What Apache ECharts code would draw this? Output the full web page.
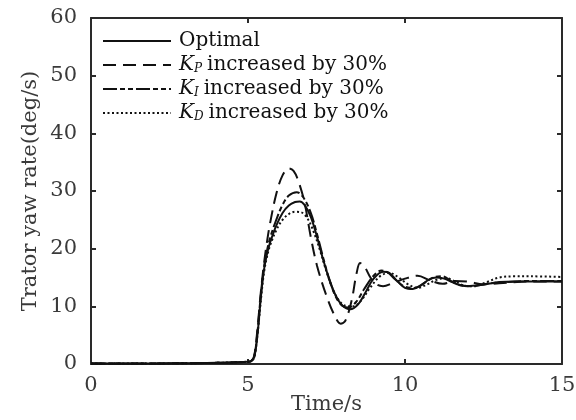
<!DOCTYPE html>
<html>
<head>
<meta charset="utf-8">
<script src="https://cdn.jsdelivr.net/npm/echarts@6/dist/echarts.min.js"></script>
<style>html,body{margin:0;padding:0;background:#fff}#c{width:576px;height:420px}</style>
</head>
<body>
<div id="c"></div>
<script>
var seriesNames = ['Optimal', 'KP increased by 30%', 'KI increased by 30%', 'KD increased by 30%'];
var xTicks = [0, 5, 10, 15];
var yTicks = [0, 10, 20, 30, 40, 50, 60];

var tOpt = [0,2,4,4.6,5.0,5.1,5.2,5.3,5.4,5.5,5.6,5.7,5.9,6.1,6.3,6.5,6.65,6.8,7.0,7.2,7.4,7.6,7.8,8.0,8.25,8.5,8.75,9.0,9.3,9.5,9.75,10.0,10.25,10.5,10.75,11.0,11.25,11.5,11.75,12.0,12.5,13.0,13.5,14,15];
var yOpt = [0.1,0.1,0.2,0.3,0.4,0.5,1.2,5,11,16,19,21,24,26.2,27.5,28.1,28.2,27.6,25.5,22,18,14.5,11.8,10.2,9.5,10.3,12.5,14.8,16,15.8,14.4,13.2,13,13.6,14.6,15,14.8,14.2,13.7,13.5,13.8,14.2,14.3,14.3,14.3];

var tKP = [0,2,4,4.6,5.0,5.1,5.2,5.3,5.4,5.5,5.6,5.7,5.9,6.1,6.3,6.45,6.6,6.8,7.0,7.2,7.5,7.75,7.95,8.1,8.3,8.45,8.57,8.7,8.9,9.1,9.3,9.6,10.0,10.4,10.8,11.2,11.6,12.0,12.5,13,14,15];
var yKP = [0.1,0.1,0.2,0.3,0.4,0.5,1.5,6,12,17,21,24.3,29.5,32.7,33.9,33.5,31.8,28,22,17,11.8,8.5,7,7.5,11,15.5,17.5,17,15,13.8,13.5,14,14.8,15.3,14.5,13.9,14.4,14.3,13.8,14,14.3,14.3];

var tKI = [0,2,4,4.6,5.0,5.1,5.2,5.3,5.4,5.5,5.6,5.7,5.9,6.1,6.3,6.55,6.75,7.0,7.2,7.4,7.6,7.8,8.0,8.2,8.45,8.7,9.0,9.25,9.45,9.7,10.0,10.3,10.6,10.9,11.2,11.5,11.8,12.1,12.6,13.2,14,15];
var yKI = [0.1,0.1,0.2,0.3,0.4,0.5,1.3,5.5,11.5,16.5,19.5,21.8,25,27.6,29.2,29.8,29,26.2,22.5,18.3,14.5,11.6,10.1,9.8,10.8,13,15.3,16.2,15.9,14.6,13.4,13.2,14,15,15.2,14.3,13.6,13.5,13.9,14.2,14.4,14.4];

var tKD = [0,2,4,4.6,5.0,5.1,5.2,5.3,5.4,5.5,5.6,5.7,5.9,6.1,6.3,6.5,6.7,6.9,7.1,7.3,7.5,7.7,7.9,8.1,8.35,8.6,8.9,9.2,9.5,9.8,10.1,10.4,10.7,11.0,11.3,11.6,11.9,12.2,12.6,13.0,13.5,14,15];
var yKD = [0.1,0.1,0.2,0.3,0.4,0.5,1.2,5,10.5,15.5,18.5,20.5,23.2,25,26,26.4,26.3,25.2,22.8,19.6,16,13,11,10.1,10,11,13.3,15.2,15.8,15,13.8,13.2,13.8,14.6,14.9,14.3,13.6,13.5,14.2,15,15.2,15.2,15.1];

function pairs(t, y) { return t.map(function (v, i) { return [v, y[i]]; }); }

var FONT = 'DejaVu Serif';
var TXT = '#3a3a3a';
var AX = '#2a2a2a';

var chart = echarts.init(document.getElementById('c'), null, {renderer: 'canvas'});

function mkSeries(name, data, type) {
  return {
    name: name, type: 'line', data: data, smooth: 0.35, symbol: 'none',
    lineStyle: {color: '#111', width: 2, type: type},
    itemStyle: {color: '#111'}, z: 3, animation: false
  };
}

var legendFmt = {
  'Optimal': 'Optimal',
  'KP increased by 30%': '{k|K}{s|P}increased by 30%',
  'KI increased by 30%': '{k|K}{s|I}increased by 30%',
  'KD increased by 30%': '{k|K}{s|D}increased by 30%'
};

chart.setOption({
  animation: false,
  grid: {left: 91, right: 14, top: 18, bottom: 56, outerBoundsMode: 'none', containLabel: false},
  legend: {
    orient: 'vertical', left: 97, top: 26, itemWidth: 68, itemHeight: 12, itemGap: 4,
    itemStyle: {opacity: 0},
    data: seriesNames,
    formatter: function (n) { return legendFmt[n]; },
    textStyle: {
      fontFamily: FONT, fontSize: 20, color: '#111', padding: [0, 0, 0, 3],
      rich: {
        k: {fontFamily: FONT, fontSize: 20, fontStyle: 'italic', color: '#111'},
        s: {fontFamily: FONT, fontSize: 12, fontStyle: 'italic', color: '#111', verticalAlign: 'bottom', padding: [6, 5, 0, 0]}
      }
    }
  },
  xAxis: [{
    type: 'value', min: 0, max: 15, interval: 5, position: 'bottom',
    name: 'Time/s', nameLocation: 'middle', nameGap: 30, nameMoveOverlap: false,
    nameTextStyle: {fontFamily: FONT, fontSize: 21, color: TXT},
    axisLine: {show: true, onZero: false, lineStyle: {color: AX, width: 2}},
    axisTick: {show: true, inside: true, length: 5, lineStyle: {color: AX, width: 2}},
    axisLabel: {fontFamily: FONT, fontSize: 21, color: TXT, margin: 11,
      formatter: function (v) { return xTicks.indexOf(v) >= 0 ? String(v) : ''; }},
    splitLine: {show: false}
  }, {
    type: 'value', min: 0, max: 15, interval: 5, position: 'top',
    axisLine: {show: true, onZero: false, lineStyle: {color: AX, width: 2}},
    axisTick: {show: true, inside: true, length: 5, lineStyle: {color: AX, width: 2}},
    axisLabel: {show: false}, splitLine: {show: false}
  }],
  yAxis: [{
    type: 'value', min: 0, max: 60, interval: 10, position: 'left',
    name: 'Trator yaw rate(deg/s)', nameLocation: 'middle', nameGap: 50, nameMoveOverlap: false,
    nameTextStyle: {fontFamily: FONT, fontSize: 21, color: TXT},
    axisLine: {show: true, onZero: false, lineStyle: {color: AX, width: 2}},
    axisTick: {show: true, inside: true, length: 5, lineStyle: {color: AX, width: 2}},
    axisLabel: {fontFamily: FONT, fontSize: 21, color: TXT, margin: 14,
      formatter: function (v) { return yTicks.indexOf(v) >= 0 ? String(v) : ''; }},
    splitLine: {show: false}
  }, {
    type: 'value', min: 0, max: 60, interval: 10, position: 'right',
    axisLine: {show: true, onZero: false, lineStyle: {color: AX, width: 2}},
    axisTick: {show: true, inside: true, length: 5, lineStyle: {color: AX, width: 2}},
    axisLabel: {show: false}, splitLine: {show: false}
  }],
  series: [
    mkSeries(seriesNames[0], pairs(tOpt, yOpt), 'solid'),
    mkSeries(seriesNames[1], pairs(tKP, yKP), [13, 7]),
    mkSeries(seriesNames[2], pairs(tKI, yKI), [14, 3, 5, 3, 5, 3]),
    mkSeries(seriesNames[3], pairs(tKD, yKD), [2, 2.5])
  ]
});
</script>
</body>
</html>
